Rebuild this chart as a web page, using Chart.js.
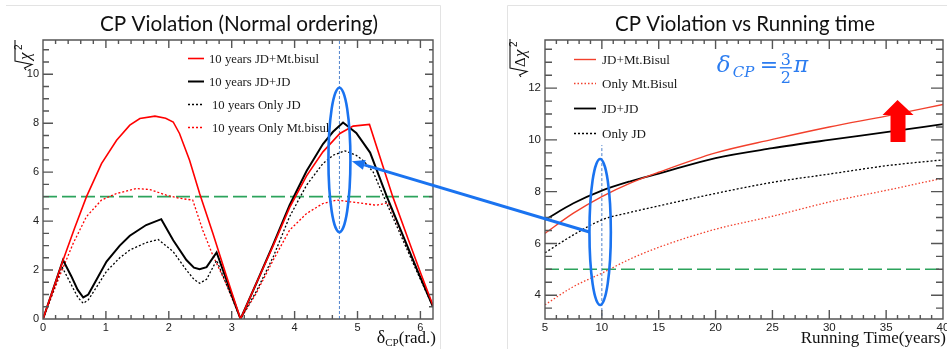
<!DOCTYPE html>
<html lang="en">
<head>
<meta charset="UTF-8">
<title>CP Violation</title>
<script src="https://cdn.jsdelivr.net/npm/chart.js@4.4.1/dist/chart.umd.min.js"></script>
<style>
  body { margin: 0; background: #fff; }
  #page { position: relative; width: 947px; height: 349px; overflow: hidden; background: #fff; }
  #page canvas { position: absolute; top: 0; }
</style>
</head>
<body>
<div id="page">
  <canvas id="cpLeft" width="470" height="349" style="left:0"></canvas>
  <canvas id="cpRight" width="477" height="349" style="left:470px"></canvas>
  <canvas id="overlay" width="947" height="349" style="left:0"></canvas>
</div>
<script>
// ---- left panel: sqrt(chi2) vs delta_CP (rad), 10 years ----
const jdMtX  = [0, 0.32, 0.5, 0.69, 0.93, 1.17, 1.38, 1.54, 1.78, 1.95, 2.07, 2.17, 2.33, 2.49, 2.7, 2.92, 3.14,
                3.39, 3.66, 3.92, 4.19, 4.45, 4.72, 4.93, 5.19, 5.56, 5.8, 6.0, 6.2];
const jdMtY  = [0, 2.41, 3.7, 4.99, 6.35, 7.3, 7.92, 8.19, 8.29, 8.2, 8.05, 7.58, 6.49, 5.13, 3.5, 1.73, 0,
                1.45, 3.0, 4.55, 5.85, 6.83, 7.58, 7.88, 7.95, 5.0, 3.3, 1.9, 0.55];

const jdJdX  = [0, 0.318, 0.45, 0.55, 0.64, 0.72, 0.85, 1.01, 1.22, 1.38, 1.64, 1.88, 2.07, 2.28, 2.4, 2.49, 2.6, 2.76, 3.14,
                3.39, 3.66, 3.92, 4.19, 4.45, 4.61, 4.77, 4.98, 5.2, 5.46, 5.7, 5.95, 6.2];
const jdJdY  = [0, 2.41, 1.75, 1.2, 0.88, 1.0, 1.6, 2.35, 3.0, 3.4, 3.84, 4.08, 3.22, 2.41, 2.1, 2.03, 2.12, 2.72, 0,
                1.45, 3.05, 4.65, 6.05, 7.15, 7.65, 8.03, 7.6, 6.8, 5.04, 3.55, 2.0, 0.5];

const onlyJdX = [0, 0.3, 0.45, 0.55, 0.64, 0.72, 0.85, 1.01, 1.22, 1.38, 1.64, 1.83, 2.07, 2.28, 2.4, 2.49, 2.6, 2.76, 3.14,
                 3.39, 3.66, 3.92, 4.19, 4.45, 4.61, 4.8, 4.98, 5.1, 5.25, 5.41, 5.7, 5.95, 6.2];
const onlyJdY = [0, 2.14, 1.4, 0.9, 0.64, 0.78, 1.3, 1.95, 2.5, 2.82, 3.12, 3.25, 2.75, 2.0, 1.62, 1.46, 1.62, 2.4, 0,
                 1.12, 2.54, 4.18, 5.47, 6.35, 6.69, 6.87, 6.69, 6.45, 6.0, 5.04, 3.35, 1.9, 0.5];

const onlyMtX = [0, 0.26, 0.48, 0.69, 0.93, 1.17, 1.48, 1.7, 1.96, 2.17, 2.38, 2.54, 2.7, 2.92, 3.14,
                 3.39, 3.66, 3.92, 4.19, 4.45, 4.66, 4.88, 5.09, 5.3, 5.49, 5.7, 5.95, 6.2];
const onlyMtY = [0, 1.73, 3.09, 4.18, 4.86, 5.13, 5.33, 5.29, 5.06, 4.93, 4.86, 3.63, 2.6, 1.4, 0,
                 1.05, 2.41, 3.63, 4.31, 4.72, 4.86, 4.79, 4.72, 4.65, 4.75, 3.5, 2.0, 0.55];

// ---- right panel: sqrt(delta chi2) vs running time, delta_CP = 3pi/2 ----
const runYears   = [5, 7.5, 10, 12.5, 15, 20, 25, 30, 35, 40];
const rJdMt      = [6.39, 7.17, 7.81, 8.33, 8.75, 9.5, 10.02, 10.5, 10.92, 11.37];
const rOnlyMt    = [3.63, 4.33, 4.85, 5.4, 5.85, 6.55, 7.05, 7.6, 8.05, 8.52];
const rJdJd      = [6.91, 7.55, 8.04, 8.4, 8.7, 9.3, 9.68, 10.0, 10.3, 10.61];
const rOnlyJd    = [5.64, 6.33, 6.91, 7.2, 7.45, 7.93, 8.36, 8.68, 9.0, 9.23];

const sigma5 = 5;                // 5 sigma reference line
const deltaMark = 1.5 * Math.PI; // delta_CP = 3pi/2
const yearMark = 10;

const pts = (xs, ys) => xs.map((x, i) => ({ x: x, y: ys[i] }));

const RED = '#ff0000', RED2 = '#f2402c', GREEN = '#2ca35c', BLUE = '#1a73f0';

function fitFont(ctx, text, tmpl, width) {
  ctx.font = tmpl.replace('SIZE', '20px');
  const s = 20 * width / ctx.measureText(text).width;
  return tmpl.replace('SIZE', s.toFixed(2) + 'px');
}

function steps(t) {
  const n = Math.round((t.to - t.from) / t.step);
  const out = [];
  for (let i = 0; i <= n; i++) out.push(+(t.from + i * t.step).toFixed(4));
  return out;
}
const isMajor = (v, m) => Math.abs(v / m - Math.round(v / m)) < 1e-6;

function seg(ctx, x1, y1, x2, y2) {
  ctx.beginPath(); ctx.moveTo(x1, y1); ctx.lineTo(x2, y2); ctx.stroke();
}

// ROOT-like frame: inside ticks on all four sides, labels, legend, titles
function rootPanel(cfg) {
  return {
    id: 'rootPanel',
    afterDraw(chart) {
      const ctx = chart.ctx, a = chart.chartArea;
      const xs = chart.scales.x, ys = chart.scales.y;
      ctx.save();
      ctx.setLineDash([]);
      // slide frame
      ctx.strokeStyle = '#e3e3e3'; ctx.lineWidth = 1;
      ctx.beginPath();
      cfg.frame.forEach((p, i) => i ? ctx.lineTo(p[0], p[1]) : ctx.moveTo(p[0], p[1]));
      ctx.stroke();

      // axis box and inside ticks
      const L = Math.round(a.left), R = Math.round(a.right);
      const T = Math.round(a.top), B = Math.round(a.bottom);
      const xv = steps(cfg.xTicks), yv = steps(cfg.yTicks);
      ctx.strokeStyle = '#555'; ctx.lineWidth = 1.4;
      ctx.beginPath();
      ctx.rect(L, T, R - L, B - T);
      xv.forEach(v => {
        const p = xs.getPixelForValue(v);
        const l = isMajor(v, cfg.xTicks.major) ? cfg.xTicks.len[0] : cfg.xTicks.len[1];
        ctx.moveTo(p, B); ctx.lineTo(p, B - l);
        ctx.moveTo(p, T); ctx.lineTo(p, T + l);
      });
      yv.forEach(v => {
        const p = ys.getPixelForValue(v);
        const mj = isMajor(v, cfg.yTicks.major);
        ctx.moveTo(L, p); ctx.lineTo(L + (mj ? cfg.yTicks.len[0] : cfg.yTicks.len[1]), p);
        ctx.moveTo(R, p); ctx.lineTo(R - (mj ? cfg.yTicks.rlen[0] : cfg.yTicks.rlen[1]), p);
      });
      ctx.stroke();

      ctx.fillStyle = '#222';
      ctx.font = cfg.tickFont;
      ctx.textAlign = 'center'; ctx.textBaseline = 'top';
      xv.filter(v => isMajor(v, cfg.xTicks.major)).forEach(v => {
        ctx.fillText(String(v), xs.getPixelForValue(v), B + 3);
      });
      ctx.textAlign = 'right'; ctx.textBaseline = 'middle';
      yv.filter(v => isMajor(v, cfg.yTicks.major)).forEach(v => {
        ctx.fillText(String(v), L - cfg.yLabelGap, ys.getPixelForValue(v));
      });

      // title
      ctx.fillStyle = '#111';
      ctx.textAlign = 'center'; ctx.textBaseline = 'alphabetic';
      ctx.font = fitFont(ctx, cfg.title, 'SIZE Lato', cfg.titleW);
      ctx.fillText(cfg.title, cfg.titleCx, 31);

      // x axis title, right aligned
      let x = cfg.xTitle.right;
      ctx.textAlign = 'left';
      for (let i = cfg.xTitle.parts.length - 1; i >= 0; i--) {
        const p = cfg.xTitle.parts[i];
        ctx.font = p.font;
        x -= ctx.measureText(p.t).width;
        ctx.fillText(p.t, x, cfg.xTitle.base + (p.dy || 0));
      }

      // y axis title: radical drawn by hand, rotated
      const yt = cfg.yTitle;
      ctx.save();
      ctx.translate(yt.x, yt.y); ctx.rotate(-Math.PI / 2);
      ctx.strokeStyle = '#111'; ctx.lineWidth = 1.1;
      ctx.beginPath();
      ctx.moveTo(0, -7); ctx.lineTo(2, -8.5); ctx.lineTo(5.5, -1); ctx.lineTo(9, -18); ctx.lineTo(yt.len, -18);
      ctx.stroke();
      yt.parts.forEach(p => { ctx.font = p.font; ctx.fillText(p.t, p.x, p.y); });
      ctx.restore();

      // legend from the datasets
      const lg = cfg.legend;
      const items = chart.data.datasets.filter(d => d.inLegend);
      ctx.font = fitFont(ctx, items[0].label, 'SIZE "Liberation Serif"', lg.width);
      ctx.textBaseline = 'middle'; ctx.textAlign = 'left';
      items.forEach((d, i) => {
        const y = lg.ys[i] + 0.5;
        ctx.strokeStyle = d.borderColor; ctx.lineWidth = d.borderWidth;
        ctx.setLineDash(d.borderDash || []);
        seg(ctx, lg.x0, y, lg.x1, y);
        ctx.setLineDash([]);
        ctx.fillStyle = '#1a1a1a';
        ctx.fillText(d.label, lg.tx + (d.borderDash ? lg.dashShift : 0), y + 1);
      });
      ctx.restore();
    }
  };
}

const baseOptions = (padding, xr, yr) => ({
  responsive: false, animation: false, events: [],
  layout: { padding: padding },
  scales: {
    x: { type: 'linear', min: xr[0], max: xr[1], display: false },
    y: { type: 'linear', min: yr[0], max: yr[1], display: false }
  },
  plugins: { legend: { display: false }, tooltip: { enabled: false } },
  elements: { point: { radius: 0 }, line: { tension: 0 } }
});

const leftChart = new Chart(document.getElementById('cpLeft'), {
  type: 'line',
  data: {
    datasets: [
      { label: '10 years JD+Mt.bisul', data: pts(jdMtX, jdMtY), borderColor: RED, borderWidth: 1.6, inLegend: true },
      { label: '10 years JD+JD', data: pts(jdJdX, jdJdY), borderColor: '#000', borderWidth: 2, inLegend: true },
      { label: '10 years Only JD', data: pts(onlyJdX, onlyJdY), borderColor: '#000', borderWidth: 1.3, borderDash: [2, 2], inLegend: true },
      { label: '10 years Only Mt.bisul', data: pts(onlyMtX, onlyMtY), borderColor: RED, borderWidth: 1.3, borderDash: [2, 2], inLegend: true },
      { label: '5 sigma', data: [{ x: 0, y: sigma5 }, { x: 6.2, y: sigma5 }], borderColor: GREEN, borderWidth: 1.6, borderDash: [14, 5] },
      { label: 'mark', data: [{ x: deltaMark, y: 0 }, { x: deltaMark, y: 11.4 }], borderColor: '#4f82cc', borderWidth: 1, borderDash: [3, 2] }
    ]
  },
  options: baseOptions({ left: 43, right: 37, top: 40, bottom: 30 }, [0, 6.2], [0, 11.4]),
  plugins: [rootPanel({
    frame: [[6, 5.5], [440.5, 5.5], [440.5, 349]],
    title: 'CP Violation (Normal ordering)', titleCx: 239, titleW: 278,
    xTicks: { from: 0, to: 6.2, step: 0.2, major: 1, len: [8, 4] },
    yTicks: { from: 0, to: 11, step: 0.5, major: 2, len: [10, 6], rlen: [8, 4] },
    yLabelGap: 4,
    tickFont: '11px "Liberation Sans"',
    xTitle: { right: 436, base: 343, parts: [
      { t: 'δ', font: '18px "Liberation Serif"' },
      { t: 'CP', font: '11px "Liberation Serif"', dy: 3 },
      { t: '(rad.)', font: '17px "Liberation Serif"' }] },
    yTitle: { x: 33, y: 70, len: 30, parts: [
      { t: 'χ', font: 'italic 17px "Liberation Serif"', x: 10, y: -3 },
      { t: '2', font: '10px "Liberation Sans"', x: 20, y: -11 }] },
    legend: { x0: 188, x1: 204, tx: 209, dashShift: 3, width: 110, ys: [58, 81, 104, 127] }
  })]
});

const rightChart = new Chart(document.getElementById('cpRight'), {
  type: 'line',
  data: {
    datasets: [
      { label: 'JD+Mt.Bisul', data: pts(runYears, rJdMt), borderColor: RED2, borderWidth: 1.4, inLegend: true, cubicInterpolationMode: 'monotone' },
      { label: 'Only Mt.Bisul', data: pts(runYears, rOnlyMt), borderColor: RED2, borderWidth: 1.3, borderDash: [1.5, 2], inLegend: true, cubicInterpolationMode: 'monotone' },
      { label: 'JD+JD', data: pts(runYears, rJdJd), borderColor: '#000', borderWidth: 1.8, inLegend: true, cubicInterpolationMode: 'monotone' },
      { label: 'Only JD', data: pts(runYears, rOnlyJd), borderColor: '#000', borderWidth: 1.3, borderDash: [2, 2], inLegend: true, cubicInterpolationMode: 'monotone' },
      { label: '5 sigma', data: [{ x: 5, y: sigma5 }, { x: 40, y: sigma5 }], borderColor: GREEN, borderWidth: 1.6, borderDash: [14, 5] },
      { label: 'mark', data: [{ x: yearMark, y: 3.0 }, { x: yearMark, y: 9.8 }], borderColor: '#4f82cc', borderWidth: 1, borderDash: [3, 2] }
    ]
  },
  options: baseOptions({ left: 75, right: 4, top: 40, bottom: 30 }, [5, 40], [3.08, 13.86]),
  plugins: [rootPanel({
    frame: [[37.5, 349], [37.5, 5.5], [477, 5.5]],
    title: 'CP Violation vs Running time', titleCx: 275, titleW: 260,
    xTicks: { from: 5, to: 40, step: 1, major: 5, len: [9, 4] },
    yTicks: { from: 3.5, to: 13.5, step: 0.5, major: 2, len: [12, 7], rlen: [12, 7] },
    yLabelGap: 4,
    tickFont: '11.5px "Liberation Sans"',
    xTitle: { right: 476, base: 343, parts: [
      { t: 'Running Time(years)', font: '17px "Liberation Serif"' }] },
    yTitle: { x: 58, y: 77, len: 38, parts: [
      { t: 'Δ', font: '15px "Liberation Serif"', x: 10, y: -3 },
      { t: 'χ', font: 'italic 17px "Liberation Serif"', x: 20, y: -3 },
      { t: '2', font: '10px "Liberation Sans"', x: 30, y: -11 }] },
    legend: { x0: 104, x1: 126, tx: 132, dashShift: 0, width: 68, ys: [59, 83, 108, 133] }
  })]
});

// ---- overlay: highlight ellipses, connecting arrow, big red arrow, delta label ----
(function drawOverlay() {
  const ov = document.getElementById('overlay');
  const ctx = ov.getContext('2d');
  const offR = document.getElementById('cpRight').offsetLeft;
  const lx = leftChart.scales.x, ly = leftChart.scales.y;
  const rx = rightChart.scales.x, ry = rightChart.scales.y;

  const e1 = { cx: lx.getPixelForValue(deltaMark), cy: ly.getPixelForValue(6.5), rx: 11,
               ry: Math.abs(ly.getPixelForValue(6.5 + 2.95) - ly.getPixelForValue(6.5)) };
  const e2 = { cx: offR + rx.getPixelForValue(9.85), cy: ry.getPixelForValue(6.44), rx: 10.7,
               ry: Math.abs(ry.getPixelForValue(6.44 + 2.82) - ry.getPixelForValue(6.44)) };
  ctx.strokeStyle = BLUE; ctx.lineWidth = 2.6;
  [e1, e2].forEach(e => {
    ctx.beginPath(); ctx.ellipse(e.cx, e.cy, e.rx, e.ry, 0, 0, 2 * Math.PI); ctx.stroke();
  });

  // arrow from right ellipse to left curve peak
  const sx = e2.cx - e2.rx, sy = e2.cy;
  const tx = lx.getPixelForValue(4.91), ty = ly.getPixelForValue(6.45);
  const ang = Math.atan2(ty - sy, tx - sx);
  const head = 13, hw = 5;
  const bx = tx - head * Math.cos(ang), by = ty - head * Math.sin(ang);
  ctx.lineWidth = 3;
  seg(ctx, sx, sy, bx, by);
  ctx.fillStyle = BLUE;
  ctx.beginPath();
  ctx.moveTo(tx, ty);
  ctx.lineTo(bx + hw * Math.sin(ang), by - hw * Math.cos(ang));
  ctx.lineTo(bx - hw * Math.sin(ang), by + hw * Math.cos(ang));
  ctx.closePath(); ctx.fill();

  // big red "increase" arrow
  const ax = offR + rx.getPixelForValue(36.0), ay = ry.getPixelForValue(11.54);
  ctx.fillStyle = '#ff0000';
  ctx.beginPath();
  ctx.moveTo(ax, ay);
  ctx.lineTo(ax + 16, ay + 15);
  ctx.lineTo(ax + 8, ay + 15);
  ctx.lineTo(ax + 8, ay + 42);
  ctx.lineTo(ax - 7, ay + 42);
  ctx.lineTo(ax - 7, ay + 15);
  ctx.lineTo(ax - 15, ay + 15);
  ctx.closePath(); ctx.fill();

  // delta_CP = 3/2 pi
  const dx = offR + rx.getPixelForValue(20.2), db = ry.getPixelForValue(12.62);
  ctx.fillStyle = '#2b7cf0';
  ctx.textBaseline = 'alphabetic'; ctx.textAlign = 'left';
  ctx.font = 'italic 23px "DejaVu Serif"';
  ctx.fillText('δ', dx - 1, db);
  ctx.font = 'italic 15px "DejaVu Serif"';
  ctx.fillText('CP', dx + 15, db + 5);
  ctx.font = '22px "DejaVu Sans"';
  ctx.fillText('=', dx + 42, db);
  ctx.font = '16px "DejaVu Serif"';
  ctx.textAlign = 'center';
  ctx.fillText('3', dx + 68, db - 7);
  ctx.fillText('2', dx + 68, db + 11);
  ctx.fillRect(dx + 62, db - 5, 12, 1.4);
  ctx.textAlign = 'left';
  ctx.font = 'italic 22px "DejaVu Serif"';
  ctx.fillText('π', dx + 76, db);
})();
</script>
</body>
</html>
